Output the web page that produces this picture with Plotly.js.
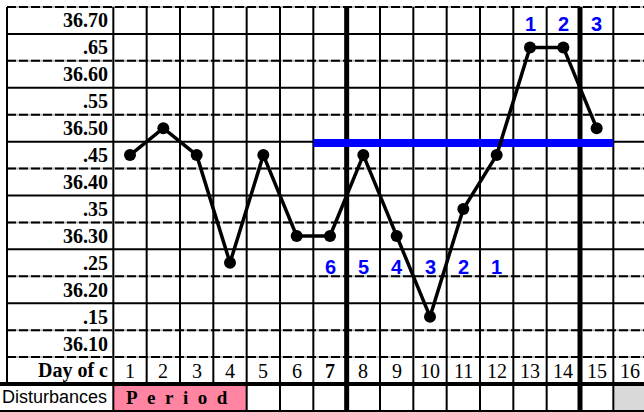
<!DOCTYPE html>
<html>
<head>
<meta charset="utf-8">
<script src="https://cdn.plot.ly/plotly-3.0.1.min.js"></script>
<style>html,body{margin:0;padding:0;background:#fff;}#chart{width:644px;height:412px;}</style>
</head>
<body>
<div id="chart"></div>
<script>
// ---- data ----
const days = [1, 2, 3, 4, 5, 6, 7, 8, 9, 10, 11, 12, 13, 14, 15];
const temps = [36.45, 36.50, 36.45, 36.25, 36.45, 36.30, 36.30, 36.45, 36.30, 36.15, 36.35, 36.45, 36.65, 36.65, 36.50];
const dayLabels = ["1","2","3","4","5","6","7","8","9","10","11","12","13","14","15","16"];
const yLabels = ["36.70", ".65", "36.60", ".55", "36.50", ".45", "36.40", ".35", "36.30", ".25", "36.20", ".15", "36.10"];
const yLabelValues = [36.70, 36.65, 36.60, 36.55, 36.50, 36.45, 36.40, 36.35, 36.30, 36.25, 36.20, 36.15, 36.10];
const countDownLabels = ["6", "5", "4", "3", "2", "1"];
const countDownDays = [7, 8, 9, 10, 11, 12];
const countDownLevel = 36.25;
const countUpLabels = ["1", "2", "3"];
const countUpDays = [13, 14, 15];
const countUpLevel = 36.70;
const coverlineValue = 36.4725;
const coverlineDays = [6.5, 15.5];
const periodDays = [1, 4];
const boldDay = "7";

// ---- geometry (layout only) ----
const STEP = 0.05;
const topEdge = 36.725;
const nRows = 15;
const dayRowCenter = 36.05, distRowCenter = 36.00;
const leftBorder = -2.69, xMin = -2.9, xMax = 16.42;
const thickCols = [7.5, 14.5];

const shapes = [];
const bY = i => topEdge - STEP * i;
shapes.push({type:'rect', xref:'x', yref:'y', x0: periodDays[0]-0.5, x1: periodDays[1]+0.5, y0: bY(14), y1: bY(15), fillcolor:'#FF85A2', line:{width:0}, layer:'below'});
shapes.push({type:'rect', xref:'x', yref:'y', x0: 15.5, x1: 16.6, y0: bY(14), y1: bY(15), fillcolor:'#D9D9D9', line:{width:0}, layer:'below'});
const dashedIdx = [0, 2, 4, 6, 8, 10, 12, 13];
for (let i = 0; i <= nRows; i++) {
  const y = bY(i);
  if (i === 14 || i === 15) {
    shapes.push({type:'line', xref:'x', yref:'y', x0:xMin, x1:xMax, y0:y, y1:y, line:{color:'#000', width: i===14?4:2}, layer:'below'});
  } else if (dashedIdx.includes(i)) {
    shapes.push({type:'line', xref:'x', yref:'y', x0:leftBorder, x1:xMax, y0:y, y1:y, line:{color:'#bbbbbb', width:2}, layer:'below'});
    shapes.push({type:'line', xref:'x', yref:'y', x0:leftBorder, x1:xMax, y0:y, y1:y, line:{color:'#000', width:2, dash:'9px,3px'}, layer:'below'});
  } else {
    shapes.push({type:'line', xref:'x', yref:'y', x0:leftBorder, x1:xMax, y0:y, y1:y, line:{color:'#000', width:2}, layer:'below'});
  }
}
shapes.push({type:'line', xref:'x', yref:'y', x0:leftBorder, x1:leftBorder, y0:bY(0), y1:bY(14), line:{color:'#000', width:2}, layer:'below'});
for (let k = 0; k <= 15; k++) {
  const x = k + 0.5;
  const thick = thickCols.includes(x);
  if (x > periodDays[0]-0.5 && x < periodDays[1]+0.5) {
    shapes.push({type:'line', xref:'x', yref:'y', x0:x, x1:x, y0:bY(0), y1:bY(14), line:{color:'#000', width:2}, layer:'below'});
  } else {
    shapes.push({type:'line', xref:'x', yref:'y', x0:x, x1:x, y0:bY(0), y1:bY(15), line:{color:'#000', width: thick?5:2}, layer:'below'});
  }
}

// ---- annotations ----
const ann = [];
const serif = 'Liberation Serif, Times New Roman, serif';
const sans = 'Liberation Sans, Arial, sans-serif';
yLabels.forEach((t, i) => ann.push({x:0.41, y:yLabelValues[i], xref:'x', yref:'y', text:'<b>'+t+'</b>', showarrow:false, xanchor:'right', yanchor:'middle', font:{family:serif, size:20, color:'#000'}}));
ann.push({x:0.41, y:dayRowCenter, xref:'x', yref:'y', text:'<b>Day of c</b>', showarrow:false, xanchor:'right', yanchor:'middle', font:{family:serif, size:20, color:'#000'}});
dayLabels.forEach((t, i) => ann.push({x:i+1, y:dayRowCenter, xref:'x', yref:'y', text: t===boldDay ? '<b>'+t+'</b>' : t, showarrow:false, xanchor:'center', yanchor:'middle', font:{family:serif, size:20, color:'#000'}}));
ann.push({x:xMin, y:distRowCenter, xref:'x', yref:'y', text:'Disturbances', showarrow:false, xanchor:'left', yanchor:'middle', font:{family:sans, size:18, color:'#000'}});
ann.push({x:(periodDays[0]+periodDays[1])/2 - 0.1, y:distRowCenter, xref:'x', yref:'y', text:'<b>' + 'Period'.split('').join('\u00A0\u00A0') + '</b>', showarrow:false, xanchor:'center', yanchor:'middle', font:{family:serif, size:19, color:'#000'}});
countDownLabels.forEach((t, i) => ann.push({x:countDownDays[i], y:countDownLevel, xref:'x', yref:'y', yshift:-4, text:'<b>'+t+'</b>', showarrow:false, xanchor:'center', yanchor:'middle', font:{family:sans, size:20, color:'#0000FF'}}));
countUpLabels.forEach((t, i) => ann.push({x:countUpDays[i], y:countUpLevel, xref:'x', yref:'y', yshift:-4, text:'<b>'+t+'</b>', showarrow:false, xanchor:'center', yanchor:'middle', font:{family:sans, size:20, color:'#0000FF'}}));

const traces = [
  {x: coverlineDays, y:[coverlineValue, coverlineValue], mode:'lines', line:{color:'#0000FF', width:8}, hoverinfo:'skip', showlegend:false},
  {x: days, y: temps, mode:'lines+markers', line:{color:'#000', width:3.5}, marker:{color:'#000', size:12}, showlegend:false}
];

const layout = {
  width:644, height:412,
  margin:{l:0, r:0, t:0, b:0, pad:0},
  paper_bgcolor:'#fff', plot_bgcolor:'#fff',
  showlegend:false,
  xaxis:{range:[xMin, xMax], showgrid:false, zeroline:false, showticklabels:false, showline:false, ticks:'', fixedrange:true},
  yaxis:{range:[35.973, 36.738], showgrid:false, zeroline:false, showticklabels:false, showline:false, ticks:'', fixedrange:true},
  shapes: shapes,
  annotations: ann
};
Plotly.newPlot('chart', traces, layout, {staticPlot:true, displayModeBar:false});
</script>
</body>
</html>
